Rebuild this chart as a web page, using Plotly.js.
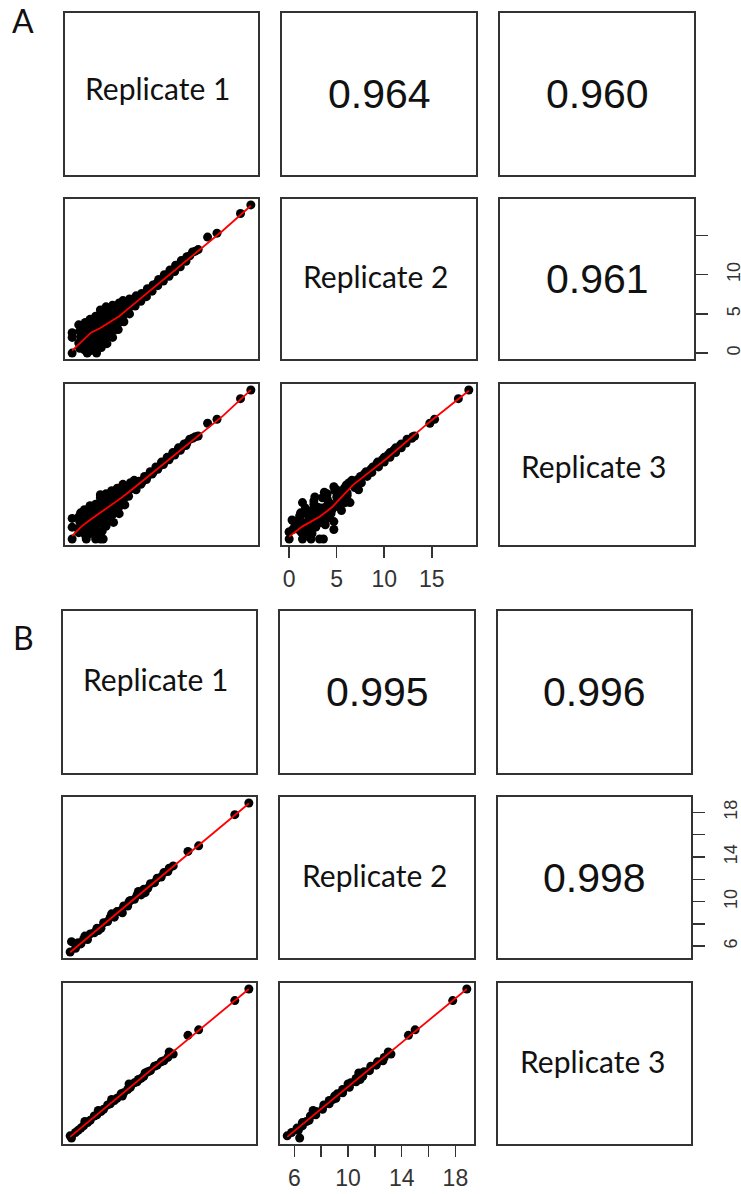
<!DOCTYPE html>
<html><head><meta charset="utf-8">
<script src="https://cdn.plot.ly/plotly-3.0.1.min.js"></script>
<style>html,body{margin:0;padding:0;background:#fff}#chart{width:741px;height:1194px}</style>
</head><body><div id="chart"></div>
<script>
// ---------------- DATA ----------------
const varNames = ['Replicate 1', 'Replicate 2', 'Replicate 3'];
const panelLetters = ['A', 'B'];

// Panel A: per-gene values in the three replicates
const A_rep1 = [0,0,0,1.6,2.6,1.5,2.5,3.3,3.0,
  0.8,0.7,0.9,0.8,0.7,1.0,
  1.3,1.2,1.4,1.3,1.2,1.4,
  1.9,1.8,2.0,1.9,1.8,2.0,1.9,
  2.5,2.4,2.6,2.5,2.4,2.6,2.5,
  3.1,3.0,3.2,3.1,3.0,3.2,3.1,3.0,
  3.7,3.6,3.8,3.7,3.6,3.8,3.7,3.6,
  4.3,4.2,4.4,4.3,4.2,4.4,4.3,
  4.9,4.8,5.0,4.9,4.8,5.0,
  5.5,5.4,5.6,5.5,5.4,
  6.1,6.0,6.2,6.1,
  6.7,6.6,6.8,
  1.0,1.6,2.2,2.8,3.4,4.0,4.6,5.2,5.8,2.0,2.9,3.5,4.1,1.4,2.3,3.3,4.6,5.1,
  7.1,7.4,7.7,8.0,8.3,8.6,8.9,9.2,9.5,9.8,10.1,10.4,10.7,11.0,11.3,11.6,11.9,12.2,12.5,12.8,13.1,13.4,
  7.3,7.9,8.5,9.1,9.7,10.3,10.9,11.5,12.1,
  14.4,15.4,17.9,19.0];
const A_rep2 = [0,2.0,2.6,0,0,2.3,1.4,3.2,3.6,
  0.6,1.3,2.1,2.8,3.6,1.7,
  0.4,1.1,1.8,2.5,3.2,3.9,
  0.3,1.0,1.7,2.4,3.1,3.8,4.3,
  0.6,1.2,1.9,2.6,3.3,4.0,4.7,
  0.7,1.4,2.1,2.8,3.5,4.2,4.9,5.5,
  1.2,1.9,2.6,3.3,4.0,4.7,5.4,5.9,
  2.0,2.7,3.4,4.1,4.8,5.5,6.1,
  3.0,3.7,4.4,5.1,5.8,6.4,
  4.0,4.7,5.4,6.1,6.7,
  5.0,5.7,6.3,6.9,
  6.0,6.6,7.3,
  1.0,1.5,2.0,2.4,3.0,3.6,4.3,5.0,5.6,2.9,3.8,4.5,5.2,2.7,1.2,2.3,3.0,4.0,
  7.0,7.6,7.5,8.2,8.1,8.7,8.8,9.4,9.3,10.0,10.0,10.6,10.6,11.2,11.2,11.8,11.8,12.3,12.4,12.9,13.0,13.2,
  6.6,7.2,7.9,8.6,9.2,9.8,10.4,11.0,11.7,
  14.8,15.3,17.8,18.9];
const A_rep3 = [0,1.5,2.6,0.9,0.9,0,0,0,0,
  2.2,0.8,3.3,1.5,2.8,1.9,
  1.2,2.9,0.5,3.7,2.1,3.1,
  2.4,1.4,3.9,0.7,2.9,1.8,4.2,
  1.7,3.3,0.6,4.4,2.3,3.8,1.2,
  2.0,4.6,1.0,3.6,5.2,2.7,4.1,5.6,
  2.9,1.6,4.8,3.9,5.7,2.2,5.0,4.6,
  3.1,5.3,2.1,4.4,6.1,3.6,5.5,
  4.0,5.9,3.2,5.0,6.4,4.6,
  5.1,6.6,4.3,5.8,6.9,
  6.2,5.4,7.1,6.5,
  6.8,7.4,6.2,
  1.2,1.7,2.3,2.6,3.3,3.9,4.5,5.3,5.9,2.0,3.0,3.7,4.6,1.6,2.2,2.6,3.5,4.2,
  7.3,7.1,7.9,7.9,8.5,8.4,9.1,9.1,9.7,9.7,10.3,10.3,10.9,10.9,11.5,11.5,12.0,12.1,12.6,12.7,12.9,13.0,
  6.9,7.5,8.2,8.8,9.4,10.0,10.6,11.2,11.8,
  14.6,15.1,17.7,18.8];
const A_corr = ['0.964', '0.960', '0.961'];   // (1,2), (1,3), (2,3)
// smooth (lowess) curves
const A_smooth21_x = [0, 1, 2, 3, 4, 5, 6, 8, 10, 12, 14, 16, 19.0];
const A_smooth21_y = [0.3, 1.5, 2.6, 3.2, 3.9, 4.7, 5.7, 7.7, 9.7, 11.6, 13.6, 15.6, 18.8];
const A_smooth31_x = [0, 1, 2, 3, 4, 5, 6, 8, 10, 12, 14, 16, 19.0];
const A_smooth31_y = [0.4, 1.6, 2.5, 3.3, 4.1, 5.0, 5.9, 7.8, 9.7, 11.6, 13.6, 15.5, 18.8];
const A_smooth32_x = [0, 1.4, 3.2, 4.5, 5.6, 6.7, 8.5, 10.2, 14.8, 18.9];
const A_smooth32_y = [0.3, 1.6, 2.8, 4.0, 5.4, 6.8, 8.5, 10.1, 14.8, 18.7];
const A_xTickVals = [0, 5, 10, 15];
const A_xTickText = ['0', '5', '10', '15'];
const A_yTickVals = [0, 5, 10, 15];
const A_yTickText = ['0', '5', '10', ''];

// Panel B
const B_rep1 = [18.85,17.8,15.1,14.3,13.2,12.8,12.5,12.3,12.0,11.8,11.5,11.3,11.0,10.8,10.5,10.3,10.0,9.8,9.5,9.3,9.0,8.8,8.5,8.3,8.0,7.8,7.5,7.3,7.0,6.8,6.5,6.3,6.1,5.9,5.6,5.5,
  11.1,9.9,8.6,7.6,6.6,9.4,10.6,12.9];
const B_rep2 = [18.85,17.8,15.0,14.5,13.2,12.7,12.6,12.2,12.1,11.7,11.6,11.2,11.1,10.6,10.6,10.2,10.1,9.6,9.6,9.2,9.1,8.6,8.6,8.2,8.1,7.6,7.6,7.2,7.1,6.6,6.6,6.2,6.3,5.8,6.4,5.47,
  10.8,10.0,8.9,7.4,6.9,9.0,10.9,13.0];
const B_rep3 = [18.8,17.75,15.1,14.6,12.9,12.6,12.3,12.2,11.9,11.8,11.4,11.3,10.9,10.7,10.4,10.3,9.9,9.7,9.4,9.3,8.9,8.7,8.4,8.3,7.9,7.7,7.4,7.3,6.9,6.7,6.4,6.2,6.0,5.8,5.3,5.5,
  11.2,10.2,8.8,7.8,6.8,9.1,10.6,13.1];
const B_corr = ['0.995', '0.996', '0.998'];
const B_smooth21_x = [5.5, 12.0, 18.85];
const B_smooth21_y = [5.45, 11.95, 18.8];
const B_smooth31_x = [5.5, 12.0, 18.85];
const B_smooth31_y = [5.4, 11.9, 18.8];
const B_smooth32_x = [5.47, 12.0, 18.85];
const B_smooth32_y = [5.4, 11.9, 18.8];
const B_xTickVals = [6, 8, 10, 12, 14, 16, 18];
const B_xTickText = ['6', '', '10', '', '14', '', '18'];
const B_yTickVals = [6, 8, 10, 12, 14, 16, 18];
const B_yTickText = ['6', '', '10', '', '14', '', '18'];

// ---------------- LAYOUT GEOMETRY (pixels) ----------------
const W = 741, H = 1194;
const geom = [
  { cols: [[65, 258], [282, 476], [500, 694]], rows: [[13, 175], [199, 359], [384, 545]], letter: [23, 20],
    names: [[157, 88], [375, 276], [593, 466]] },
  { cols: [[63, 256], [280, 474], [498, 691]], rows: [[611, 773], [797, 958], [983, 1144]], letter: [23, 637],
    names: [[155, 679], [374, 875], [592, 1061]] }
];

const sets = [
  { reps: [A_rep1, A_rep2, A_rep3], corr: A_corr,
    smooth: { '21': [A_smooth21_x, A_smooth21_y], '31': [A_smooth31_x, A_smooth31_y], '32': [A_smooth32_x, A_smooth32_y] },
    xt: [A_xTickVals, A_xTickText], yt: [A_yTickVals, A_yTickText] },
  { reps: [B_rep1, B_rep2, B_rep3], corr: B_corr,
    smooth: { '21': [B_smooth21_x, B_smooth21_y], '31': [B_smooth31_x, B_smooth31_y], '32': [B_smooth32_x, B_smooth32_y] },
    xt: [B_xTickVals, B_xTickText], yt: [B_yTickVals, B_yTickText] }
];

function rng(arr) {
  const mn = Math.min(...arr), mx = Math.max(...arr);
  const p = (mx - mn) * 0.04;
  return [mn - p, mx + p];
}
const px2x = p => p / W;
const px2y = p => 1 - p / H;

const traces = [];
const layout = {
  width: W, height: H, margin: { l: 0, r: 0, t: 0, b: 0 },
  paper_bgcolor: '#fff', plot_bgcolor: '#fff', showlegend: false,
  annotations: [], font: { family: 'Liberation Sans, Arial, sans-serif', color: '#111' }
};

const boxLine = { showline: true, mirror: true, linecolor: '#333', linewidth: 1.8,
  showgrid: false, zeroline: false, showticklabels: false, ticks: '', fixedrange: true };

let k = 0;
sets.forEach((S, si) => {
  const G = geom[si];
  const ranges = S.reps.map(rng);
  let ci = 0;
  for (let r = 0; r < 3; r++) {
    for (let c = 0; c < 3; c++) {
      k++;
      const xa = 'xaxis' + (k === 1 ? '' : k), ya = 'yaxis' + (k === 1 ? '' : k);
      const xr = 'x' + (k === 1 ? '' : k), yr = 'y' + (k === 1 ? '' : k);
      const xAx = Object.assign({}, boxLine, {
        domain: [px2x(G.cols[c][0]), px2x(G.cols[c][1])], range: ranges[c], anchor: yr });
      const yAx = Object.assign({}, boxLine, {
        domain: [px2y(G.rows[r][1]), px2y(G.rows[r][0])], range: ranges[r], anchor: xr });
      if (r === 2 && c === 1) {
        Object.assign(xAx, { ticks: 'outside', ticklen: 11, tickwidth: 1.5, tickcolor: '#333',
          tickvals: S.xt[0], ticktext: S.xt[1], showticklabels: true, ticklabelstandoff: 2,
          tickfont: { family: 'Liberation Sans Narrow, Liberation Sans, Arial', size: 23, color: '#333' } });
      }
      if (r === 1 && c === 2) {
        Object.assign(yAx, { side: 'right', ticks: 'outside', ticklen: 12, tickwidth: 1.5, tickcolor: '#333',
          tickvals: S.yt[0], ticktext: S.yt[1], showticklabels: true, tickangle: -90, ticklabelstandoff: 11,
          tickfont: { family: 'Liberation Sans, Arial', size: 18, color: '#333' } });
      }
      layout[xa] = xAx; layout[ya] = yAx;
      const cx = (G.cols[c][0] + G.cols[c][1]) / 2, cy = (G.rows[r][0] + G.rows[r][1]) / 2;
      if (r > c) {
        traces.push({ type: 'scatter', mode: 'markers', x: S.reps[c], y: S.reps[r], xaxis: xr, yaxis: yr,
          marker: { color: '#000', size: 9 }, cliponaxis: true, hoverinfo: 'skip' });
        const sm = S.smooth['' + (r + 1) + (c + 1)];
        traces.push({ type: 'scatter', mode: 'lines', x: sm[0], y: sm[1], xaxis: xr, yaxis: yr,
          line: { color: '#ff0000', width: 1.8 }, hoverinfo: 'skip' });
      } else {
        // empty trace so the subplot frame (box) is drawn
        traces.push({ type: 'scatter', mode: 'markers', x: [null], y: [null], xaxis: xr, yaxis: yr,
          hoverinfo: 'skip' });
        if (r === c) {
          layout.annotations.push({ xref: 'paper', yref: 'paper', x: px2x(G.names[r][0]), y: px2y(G.names[r][1]),
            text: varNames[r], showarrow: false, xanchor: 'center', yanchor: 'middle',
            font: { family: 'Lato, Open Sans, sans-serif', size: 30, color: '#111' } });
        } else {
          layout.annotations.push({ xref: 'paper', yref: 'paper', x: px2x(cx), y: px2y(cy),
            text: S.corr[ci++], showarrow: false, xanchor: 'center', yanchor: 'middle',
            font: { family: 'Liberation Sans, Arial', size: 41, color: '#111' } });
        }
      }
    }
  }
  layout.annotations.push({ xref: 'paper', yref: 'paper', x: px2x(G.letter[0]), y: px2y(G.letter[1]),
    text: panelLetters[si], showarrow: false, xanchor: 'center', yanchor: 'middle',
    font: { family: 'Lato, Open Sans, sans-serif', size: 32, color: '#111' } });
});

Plotly.newPlot('chart', traces, layout, { staticPlot: true, displayModeBar: false });
</script>
</body></html>
